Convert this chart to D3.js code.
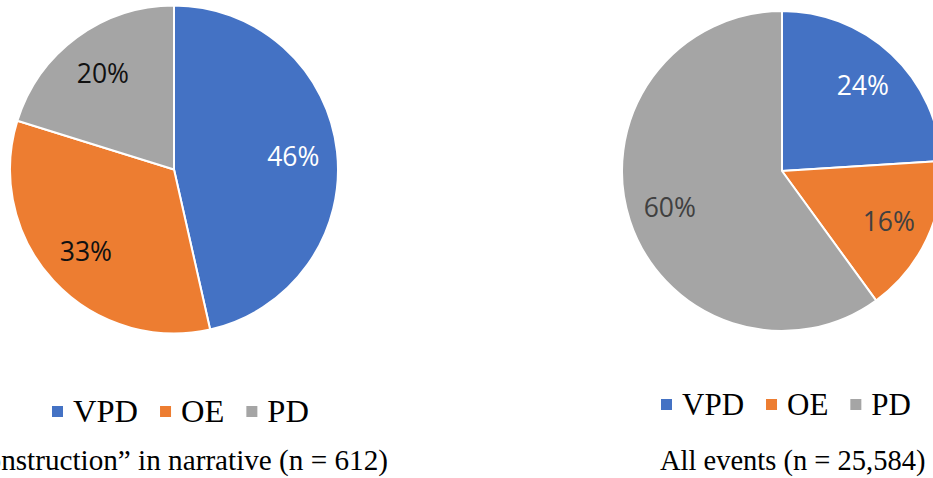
<!DOCTYPE html>
<html>
<head>
<meta charset="utf-8">
<script src="https://cdn.jsdelivr.net/npm/d3@7"></script>
<style>
  html, body { margin: 0; padding: 0; background: #fff; }
  svg { display: block; }
</style>
</head>
<body>
<svg id="chart" width="933" height="478"></svg>
<script>
// ---- data ----
const categories = ["VPD", "OE", "PD"];
const leftValues = [46, 33, 20];
const rightValues = [24, 16, 60];
const leftLabels = ["46%", "33%", "20%"];
const rightLabels = ["24%", "16%", "60%"];
const leftCaption = "\u201CConstruction\u201D in narrative (n = 612)";
const rightCaption = "All events (n = 25,584)";

// ---- styles ----
const colors = ["#4472C4", "#ED7D31", "#A5A5A5"];
const serif = "'Liberation Serif', 'Times New Roman', serif";
const labelFont = "'Open Sans', 'Noto Sans', sans-serif";

const svg = d3.select("#chart");
svg.append("rect").attr("width", 933).attr("height", 478).attr("fill", "#fff");

const color = d3.scaleOrdinal().domain(categories).range(colors);
const pie = d3.pie().sort(null).value(d => d.value);

function drawPie(cfg) {
  const data = categories.map((c, i) => ({ cat: c, value: cfg.values[i], label: cfg.labels[i], textColor: cfg.textColors[i] }));
  const arcs = pie(data);
  const arc = d3.arc().innerRadius(0).outerRadius(cfg.r);
  const labelArc = d3.arc().innerRadius(cfg.lr).outerRadius(cfg.lr);
  const g = svg.append("g").attr("transform", `translate(${cfg.cx},${cfg.cy})`);
  g.selectAll("path").data(arcs).join("path")
    .attr("d", arc)
    .attr("fill", d => color(d.data.cat))
    .attr("stroke", "#fff")
    .attr("stroke-width", 2)
    .attr("stroke-linejoin", "round");
  g.selectAll("text").data(arcs).join("text")
    .attr("transform", d => `translate(${labelArc.centroid(d)})`)
    .attr("text-anchor", "middle")
    .attr("dominant-baseline", "central")
    .attr("font-family", labelFont)
    .attr("font-size", 26.5)
    .attr("fill", d => d.data.textColor)
    .text(d => d.data.label);
}

function drawLegend(x, baseline, fontSize) {
  const g = svg.append("g");
  let cx = x;
  categories.forEach((c, i) => {
    g.append("rect")
      .attr("x", cx).attr("y", baseline - 16)
      .attr("width", 11).attr("height", 11)
      .attr("fill", color(c));
    const t = g.append("text")
      .attr("x", cx + 21).attr("y", baseline)
      .attr("font-family", serif)
      .attr("font-size", fontSize)
      .attr("fill", "#000")
      .text(c);
    const w = t.node().getComputedTextLength();
    cx = cx + 21 + w + 22;
  });
}

drawPie({ cx: 174, cy: 169.5, r: 164, lr: 120, values: leftValues, labels: leftLabels,
          textColors: ["#ffffff", "#111111", "#111111"] });
drawPie({ cx: 782, cy: 171, r: 160, lr: 118, values: rightValues, labels: rightLabels,
          textColors: ["#ffffff", "#404040", "#404040"] });

drawLegend(52, 422, 32.5);
drawLegend(661, 415, 31);

svg.append("text")
  .attr("x", 388).attr("y", 470)
  .attr("text-anchor", "end")
  .attr("font-family", serif)
  .attr("font-size", 29.2)
  .attr("fill", "#000")
  .text(leftCaption);
svg.append("text")
  .attr("x", 660).attr("y", 470)
  .attr("font-family", serif)
  .attr("font-size", 28.5)
  .attr("fill", "#000")
  .text(rightCaption);
</script>
</body>
</html>
